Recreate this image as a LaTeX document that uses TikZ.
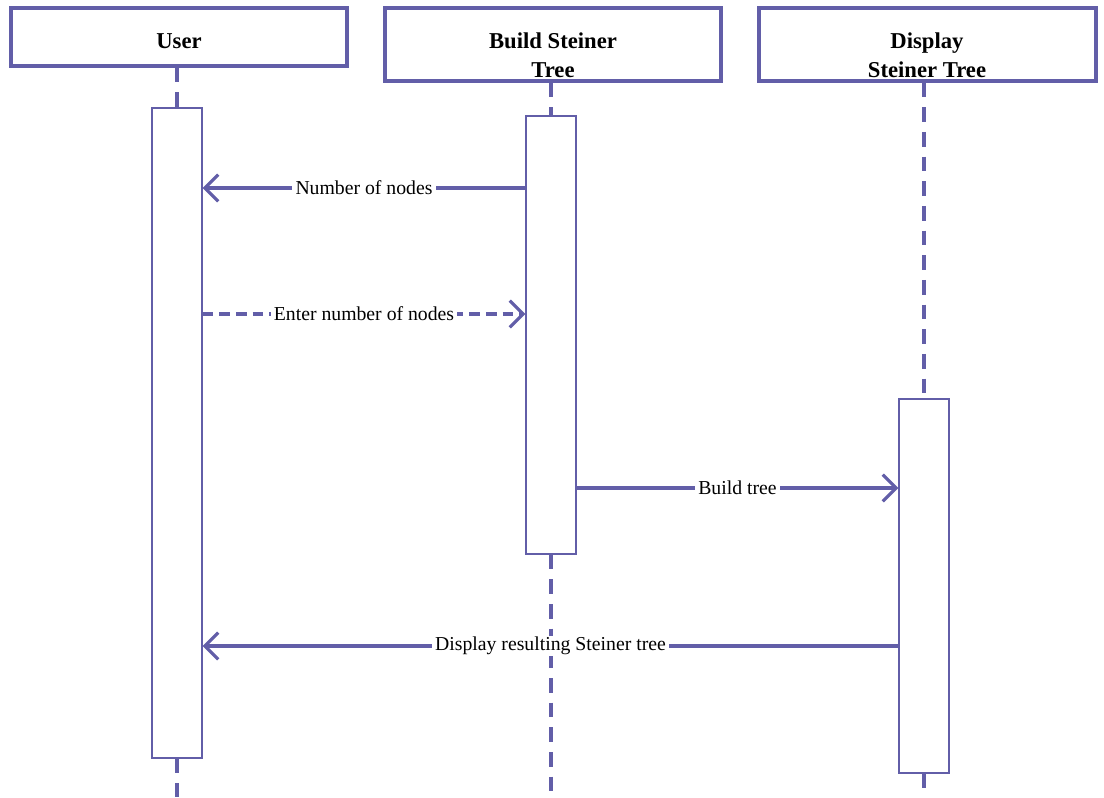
\documentclass[tikz,border=0pt]{standalone}
\usepackage{fontspec}
\setmainfont{Liberation Serif}
\usetikzlibrary{arrows.meta}
\definecolor{umlc}{RGB}{98,94,168}
\begin{document}
\begin{tikzpicture}[x=0.75pt,y=-0.75pt,
  hdr/.style={draw=umlc, line width=2.3pt, fill=white, inner sep=0pt},
  hdrtext/.style={font=\fontsize{17}{21.75}\selectfont\bfseries, align=center, inner sep=0pt},
  actbox/.style={draw=umlc, line width=1.1pt, fill=white, minimum width=37.5pt, inner sep=0pt},
  lifeline/.style={draw=umlc, line width=2.3pt, dash pattern=on 11pt off 7.5pt},
  msg/.style={draw=umlc, line width=2.3pt, -{Straight Barb[length=10pt,width=20pt]}},
  reply/.style={msg, dash pattern=on 8pt off 4.5pt},
  msglabel/.style={fill=white, inner xsep=2.5pt, inner ysep=1pt, font=\fontsize{14.8}{18}\selectfont}
]
\useasboundingbox (0,0) rectangle (1104,797);

% participant headers
\node[hdr, minimum width=252pt, minimum height=43.5pt] (user) at (179,37) {};
\node[hdr, minimum width=252pt, minimum height=54.75pt] (build) at (553,44.5) {};
\node[hdr, minimum width=252.75pt, minimum height=54.75pt] (disp) at (927.5,44.5) {};
\node[hdrtext] (userT) at (179,41) {User};
\node[hdrtext] (buildT) at (553,55.5) {Build Steiner\\Tree};
\node[hdrtext] (dispT) at (927,55.5) {Display\\Steiner Tree};

% activation bars
\node[actbox, minimum height=487.5pt] (uact) at (177,433) {};
\node[actbox, minimum height=328.5pt] (bact) at (551,335) {};
\node[actbox, minimum height=280.5pt] (dact) at (924,586) {};

% lifeline ends
\coordinate (uend) at (177,797);
\coordinate (bend) at (551,797);
\coordinate (dend) at (924,797);

% lifelines
\draw[lifeline] (uact.north |- user.south) -- (uact.north);
\draw[lifeline] (uact.south) -- (uend);
\draw[lifeline] (bact.north |- build.south) -- (bact.north);
\draw[lifeline] (bact.south) -- (bend);
\draw[lifeline] (dact.north |- disp.south) -- (dact.north);
\draw[lifeline] (dact.south) -- (dend);

% messages
\draw[msg] (bact.west |- 0,188) -- node[msglabel] (m1) {Number of nodes} (uact.east |- 0,188);
\draw[reply] (uact.east |- 0,314) -- node[msglabel] (m2) {Enter number of nodes} (bact.west |- 0,314);
\draw[msg] (bact.east |- 0,488) -- node[msglabel] (m3) {Build tree} (dact.west |- 0,488);
\draw[msg] (dact.west |- 0,646) -- node[msglabel] (m4) {Display resulting Steiner tree} (uact.east |- 0,646);
\end{tikzpicture}
\end{document}
